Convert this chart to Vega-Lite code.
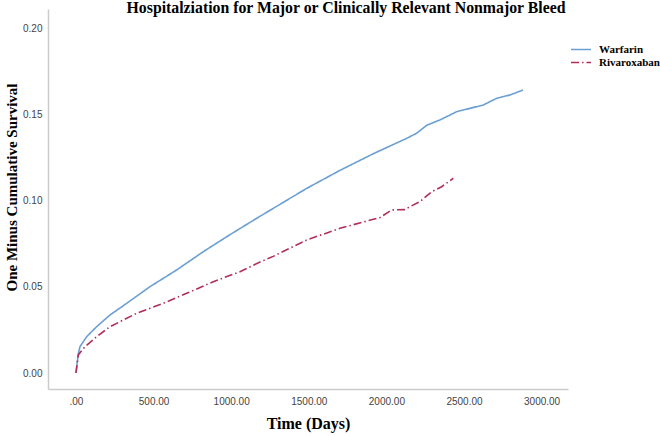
{
  "$schema": "https://vega.github.io/schema/vega-lite/v6.json",
  "width": 520,
  "height": 380,
  "autosize": {"type": "none"},
  "padding": {"left": 48, "top": 9, "right": 92, "bottom": 47},
  "background": "white",
  "title": {
    "text": "Hospitalziation for Major or Clinically Relevant Nonmajor Bleed",
    "font": "Liberation Serif",
    "fontSize": 15.8,
    "fontWeight": "bold",
    "color": "black",
    "anchor": "middle",
    "offset": 0,
    "dy": 8,
    "dx": 38
  },
  "data": {
    "values": [
      {"group": "Warfarin", "t": 0, "v": 0},
      {"group": "Warfarin", "t": 8, "v": 0.006},
      {"group": "Warfarin", "t": 16, "v": 0.0115},
      {"group": "Warfarin", "t": 26, "v": 0.0153},
      {"group": "Warfarin", "t": 69, "v": 0.0211},
      {"group": "Warfarin", "t": 133, "v": 0.0269},
      {"group": "Warfarin", "t": 219, "v": 0.0337},
      {"group": "Warfarin", "t": 327, "v": 0.0405},
      {"group": "Warfarin", "t": 477, "v": 0.0502},
      {"group": "Warfarin", "t": 649, "v": 0.0599},
      {"group": "Warfarin", "t": 820, "v": 0.0705},
      {"group": "Warfarin", "t": 971, "v": 0.0792},
      {"group": "Warfarin", "t": 1057, "v": 0.0840},
      {"group": "Warfarin", "t": 1186, "v": 0.0911},
      {"group": "Warfarin", "t": 1271, "v": 0.0957},
      {"group": "Warfarin", "t": 1486, "v": 0.1073},
      {"group": "Warfarin", "t": 1701, "v": 0.1178},
      {"group": "Warfarin", "t": 1916, "v": 0.1275},
      {"group": "Warfarin", "t": 2131, "v": 0.1364},
      {"group": "Warfarin", "t": 2195, "v": 0.1394},
      {"group": "Warfarin", "t": 2260, "v": 0.1440},
      {"group": "Warfarin", "t": 2345, "v": 0.1471},
      {"group": "Warfarin", "t": 2453, "v": 0.1519},
      {"group": "Warfarin", "t": 2624, "v": 0.1558},
      {"group": "Warfarin", "t": 2711, "v": 0.1597},
      {"group": "Warfarin", "t": 2796, "v": 0.1616},
      {"group": "Warfarin", "t": 2880, "v": 0.1645},
      {"group": "Rivaroxaban", "t": 0, "v": 0},
      {"group": "Rivaroxaban", "t": 6, "v": 0.004},
      {"group": "Rivaroxaban", "t": 15, "v": 0.0105},
      {"group": "Rivaroxaban", "t": 58, "v": 0.0153},
      {"group": "Rivaroxaban", "t": 133, "v": 0.0211},
      {"group": "Rivaroxaban", "t": 219, "v": 0.0269},
      {"group": "Rivaroxaban", "t": 391, "v": 0.0347},
      {"group": "Rivaroxaban", "t": 562, "v": 0.0405},
      {"group": "Rivaroxaban", "t": 713, "v": 0.0463},
      {"group": "Rivaroxaban", "t": 885, "v": 0.0531},
      {"group": "Rivaroxaban", "t": 1057, "v": 0.0589},
      {"group": "Rivaroxaban", "t": 1186, "v": 0.0645},
      {"group": "Rivaroxaban", "t": 1271, "v": 0.0678},
      {"group": "Rivaroxaban", "t": 1486, "v": 0.0773},
      {"group": "Rivaroxaban", "t": 1701, "v": 0.0841},
      {"group": "Rivaroxaban", "t": 1959, "v": 0.0904},
      {"group": "Rivaroxaban", "t": 2034, "v": 0.0948},
      {"group": "Rivaroxaban", "t": 2120, "v": 0.0950},
      {"group": "Rivaroxaban", "t": 2152, "v": 0.0967},
      {"group": "Rivaroxaban", "t": 2216, "v": 0.0996},
      {"group": "Rivaroxaban", "t": 2292, "v": 0.1054},
      {"group": "Rivaroxaban", "t": 2356, "v": 0.1083},
      {"group": "Rivaroxaban", "t": 2431, "v": 0.1132}
    ]
  },
  "mark": {"type": "line", "strokeWidth": 1.6, "interpolate": "linear"},
  "encoding": {
    "x": {
      "field": "t",
      "type": "quantitative",
      "scale": {"domain": [-180, 3170], "nice": false, "zero": false},
      "axis": {
        "title": "Time (Days)",
        "values": [0, 500, 1000, 1500, 2000, 2500, 3000],
        "labelExpr": "datum.value == 0 ? '.00' : format(datum.value, '.2f')",
        "grid": false,
        "ticks": false,
        "domainColor": "#cccccc",
        "domainWidth": 1.5,
        "labelFont": "Liberation Sans",
        "labelFontSize": 10,
        "labelColor": "#444444",
        "labelPadding": 7,
        "titleFont": "Liberation Serif",
        "titleFontSize": 16,
        "titleFontWeight": "bold",
        "titleColor": "black",
        "titlePadding": 9
      }
    },
    "y": {
      "field": "v",
      "type": "quantitative",
      "scale": {"domain": [-0.0093, 0.2116], "nice": false, "zero": false},
      "axis": {
        "title": "One Minus Cumulative Survival",
        "values": [0, 0.05, 0.1, 0.15, 0.2],
        "format": ".2f",
        "grid": false,
        "ticks": false,
        "domainColor": "#cccccc",
        "domainWidth": 1.5,
        "labelFont": "Liberation Sans",
        "labelFontSize": 10,
        "labelColor": "#444444",
        "labelPadding": 6,
        "titleFont": "Liberation Serif",
        "titleFontSize": 15,
        "titleFontWeight": "bold",
        "titleColor": "black",
        "titleX": -32,
        "titleY": 178,
        "titleBaseline": "alphabetic"
      }
    },
    "color": {
      "field": "group",
      "type": "nominal",
      "scale": {"domain": ["Warfarin", "Rivaroxaban"], "range": ["#6b9fd3", "#b02e5c"]},
      "legend": {
        "title": null,
        "orient": "none",
        "legendX": 522,
        "legendY": 33,
        "symbolType": "M-1,0H2.077",
        "symbolSize": 169,
        "symbolStrokeWidth": 1.6,
        "labelFont": "Liberation Serif",
        "labelFontSize": 11,
        "labelFontWeight": "bold",
        "labelColor": "black",
        "labelOffset": 14,
        "rowPadding": 0
      }
    },
    "strokeDash": {
      "field": "group",
      "type": "nominal",
      "scale": {"domain": ["Warfarin", "Rivaroxaban"], "range": [[1, 0], [8, 3, 1.5, 3]]},
      "legend": {
        "title": null,
        "orient": "none",
        "legendX": 522,
        "legendY": 33,
        "symbolType": "M-1,0H2.077",
        "symbolSize": 169,
        "symbolStrokeWidth": 1.6,
        "labelFont": "Liberation Serif",
        "labelFontSize": 11,
        "labelFontWeight": "bold",
        "labelColor": "black",
        "labelOffset": 14,
        "rowPadding": 0
      }
    }
  },
  "config": {"view": {"stroke": null}}
}
